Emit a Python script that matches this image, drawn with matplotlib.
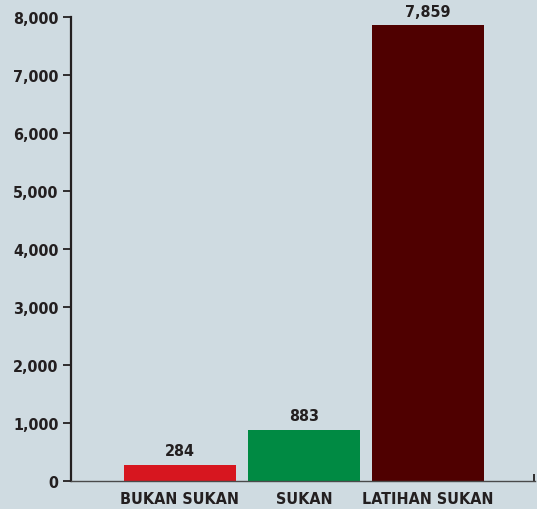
import matplotlib.pyplot as plt
from matplotlib.ticker import FuncFormatter

categories = ['BUKAN SUKAN', 'SUKAN', 'LATIHAN SUKAN']
values = [284, 883, 7859]
colors = ['#d7161f', '#008a43', '#4f0000']
yticks = [0, 1000, 2000, 3000, 4000, 5000, 6000, 7000, 8000]

bg = '#cfdbe1'
ink = '#231f20'
plt.rcParams['font.family'] = ['DejaVu Sans']
plt.rcParams['font.stretch'] = 'condensed'
plt.rcParams['font.weight'] = 'bold'

fig = plt.figure(figsize=(5.37, 5.10), dpi=100, facecolor=bg)
ax = fig.add_axes([71 / 537, 1 - 482 / 510, 464 / 537, 464 / 510])
ax.set_facecolor(bg)

x = [1, 2, 3]
bars = ax.bar(x, values, width=112 / 124, color=colors)
for b, v in zip(bars, values):
    ax.text(b.get_x() + b.get_width() / 2, v + 110, f'{v:,}', ha='center', va='bottom',
            fontsize=11.5, fontweight='bold', fontstretch='condensed', color=ink)

ax.set_xlim(0.121, 3.863)
ax.set_ylim(0, 8000)
ax.set_yticks(yticks)
ax.yaxis.set_major_formatter(FuncFormatter(lambda v, p: f'{int(v):,}'))
ax.set_xticks(x)
ax.set_xticklabels(categories)
ax.set_xticks([3.855], minor=True)

for s in ['top', 'right']:
    ax.spines[s].set_visible(False)
ax.spines['left'].set_linewidth(1.6)
ax.spines['left'].set_color(ink)
ax.spines['bottom'].set_linewidth(1.0)
ax.spines['bottom'].set_color('#4a4a4a')

ax.tick_params(axis='y', length=6, width=1.3, color=ink, pad=3, labelsize=11.5, labelcolor=ink)
ax.tick_params(axis='x', which='major', length=0, pad=7, labelsize=11.5, labelcolor=ink)
ax.tick_params(axis='x', which='minor', direction='in', length=5, width=1.3, color=ink)
for t in ax.get_xticklabels() + ax.get_yticklabels():
    t.set_fontweight('bold')
    t.set_fontstretch('condensed')

fig.savefig('out.png', dpi=100, facecolor=bg)
